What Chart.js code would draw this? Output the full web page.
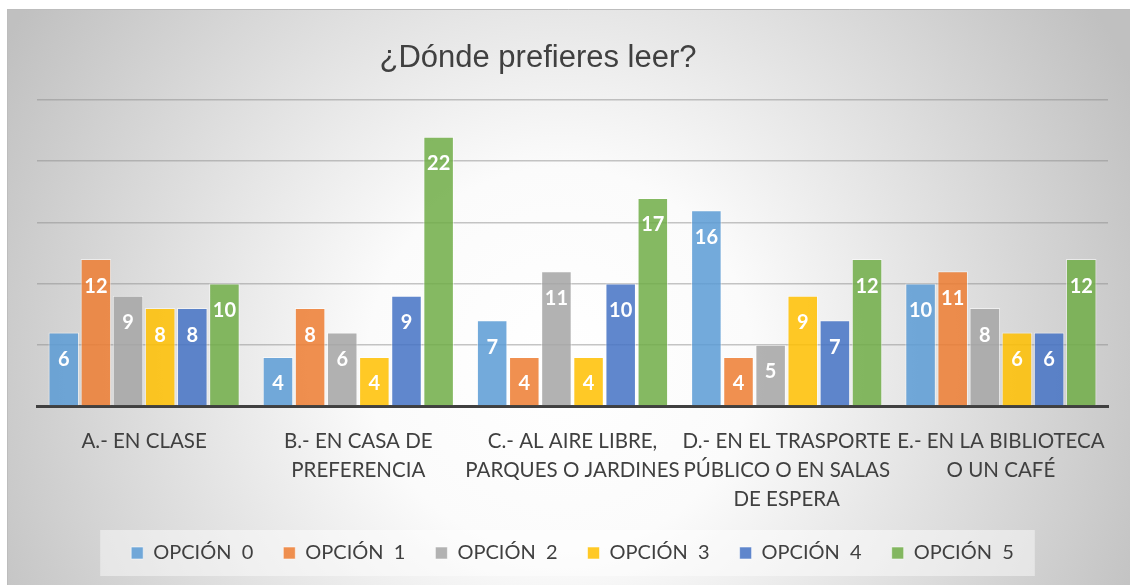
<!DOCTYPE html>
<html>
<head>
<meta charset="utf-8">
<script src="https://cdn.jsdelivr.net/npm/chart.js@4.4.1/dist/chart.umd.min.js"></script>
<style>
  body { margin: 0; background: #fff; }
</style>
</head>
<body>
<canvas id="chart" width="1130" height="585"></canvas>
<script>
const titleText = '¿Dónde prefieres leer?';
const categories = [
    ['A.- EN CLASE'],
    ['B.- EN CASA DE', 'PREFERENCIA'],
    ['C.- AL AIRE LIBRE,', 'PARQUES O JARDINES'],
    ['D.- EN EL TRASPORTE', 'PÚBLICO O EN SALAS', 'DE ESPERA'],
    ['E.- EN LA BIBLIOTECA', 'O UN CAFÉ']
];
const seriesNames = ['OPCIÓN  0', 'OPCIÓN  1', 'OPCIÓN  2', 'OPCIÓN  3', 'OPCIÓN  4', 'OPCIÓN  5'];
const opcion0 = [6, 4, 7, 16, 10];
const opcion1 = [12, 8, 4, 4, 11];
const opcion2 = [9, 6, 11, 5, 8];
const opcion3 = [8, 4, 4, 9, 6];
const opcion4 = [8, 9, 10, 7, 6];
const opcion5 = [10, 22, 17, 12, 12];
const seriesColors = ['91,155,213', '237,125,49', '165,165,165', '255,192,0', '68,114,196', '112,173,71'];

const seriesValues = [opcion0, opcion1, opcion2, opcion3, opcion4, opcion5];

// fondo con degradado y marco
const backgroundPlugin = {
    id: 'background',
    beforeDraw(chart) {
        const ctx = chart.ctx;
        ctx.save();
        ctx.fillStyle = '#fff';
        ctx.fillRect(0, 0, chart.width, chart.height);
        const grad = ctx.createRadialGradient(560, 360, 0, 560, 360, 640);
        grad.addColorStop(0, '#ffffff');
        grad.addColorStop(0.3, '#fbfbfb');
        grad.addColorStop(1, '#c0c0c0');
        ctx.fillStyle = grad;
        ctx.fillRect(7, 9, chart.width - 7, chart.height - 9);
        ctx.strokeStyle = '#bdbdbd';
        ctx.lineWidth = 1;
        ctx.beginPath();
        ctx.moveTo(7.5, chart.height);
        ctx.lineTo(7.5, 9.5);
        ctx.lineTo(chart.width, 9.5);
        ctx.stroke();

        // caja de la leyenda
        const boxes = chart.legend.legendHitBoxes;
        if (boxes && boxes.length) {
            const first = boxes[0], last = boxes[boxes.length - 1];
            const cy = first.top + first.height / 2;
            ctx.fillStyle = 'rgba(255,255,255,0.45)';
            ctx.fillRect(first.left - 31, cy - 23, last.left + last.width - first.left + 52, 46);
        }

        // titulo
        ctx.font = '31px "Liberation Sans", Arial, sans-serif';
        ctx.fillStyle = '#404040';
        ctx.textAlign = 'center';
        ctx.textBaseline = 'middle';
        ctx.fillText(titleText, 538, 58);
        ctx.restore();
    }
};

// etiquetas de valores dentro de las barras
const valueLabels = {
    id: 'valueLabels',
    afterDatasetsDraw(chart) {
        const ctx = chart.ctx;
        ctx.save();
        ctx.font = 'bold 20px Lato, sans-serif';
        ctx.fillStyle = '#fff';
        ctx.textAlign = 'center';
        ctx.textBaseline = 'middle';
        chart.data.datasets.forEach((ds, i) => {
            chart.getDatasetMeta(i).data.forEach((bar, j) => {
                ctx.fillText(ds.data[j], bar.x, bar.y + 27);
            });
        });
        ctx.restore();
    }
};

const ctx = document.getElementById('chart').getContext('2d');
new Chart(ctx, {
    type: 'bar',
    data: {
        labels: categories,
        datasets: seriesNames.map((name, i) => ({
            label: name,
            data: seriesValues[i],
            backgroundColor: `rgba(${seriesColors[i]},0.85)`,
            borderColor: 'rgba(255,255,255,0.55)',
            borderWidth: 1,
            categoryPercentage: 0.9,
            barPercentage: 0.95
        }))
    },
    options: {
        responsive: false,
        animation: false,
        layout: { padding: { top: 100, left: 37, right: 22, bottom: 12 } },
        plugins: {
            title: { display: false },
            tooltip: { enabled: false },
            legend: {
                position: 'bottom',
                labels: {
                    color: '#404040',
                    font: { family: 'Lato', size: 20 },
                    boxWidth: 12,
                    boxHeight: 12,
                    padding: 30
                }
            }
        },
        scales: {
            x: {
                grid: { display: false, drawTicks: false },
                border: { display: true, color: '#404040', width: 3 },
                ticks: {
                    color: '#404040',
                    font: { family: 'Lato', size: 20.5, lineHeight: 1.41 },
                    padding: 21,
                    maxRotation: 0,
                    autoSkip: false
                },
                afterFit: s => { s.height = 107; }
            },
            y: {
                min: 0,
                max: 25,
                ticks: { display: false, stepSize: 5 },
                grid: { color: 'rgba(140,140,140,0.5)', lineWidth: 1.5, drawTicks: false },
                border: { display: false },
                afterFit: s => { s.width = 0; }
            }
        }
    },
    plugins: [backgroundPlugin, valueLabels]
});
</script>
</body>
</html>
